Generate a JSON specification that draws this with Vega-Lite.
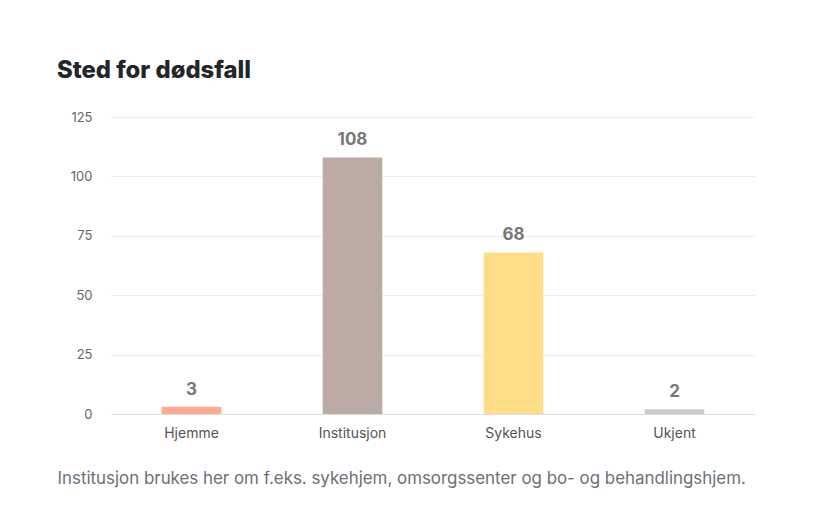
{
  "$schema": "https://vega.github.io/schema/vega-lite/v6.json",
  "width": 644,
  "height": 297,
  "autosize": {"type": "none"},
  "padding": {"left": 111, "top": 117, "right": 72, "bottom": 92},
  "background": "white",
  "config": {
    "font": "Inter",
    "view": {"stroke": null},
    "title": {"font": "Inter", "fontSize": 23.8, "fontWeight": 800, "color": "#222529", "anchor": "start", "frame": "group", "baseline": "alphabetic", "dx": -54, "offset": 28}
  },
  "title": "Sted for dødsfall",
  "data": {
    "values": [
      {"sted": "Hjemme", "antall": 3},
      {"sted": "Institusjon", "antall": 108},
      {"sted": "Sykehus", "antall": 68},
      {"sted": "Ukjent", "antall": 2}
    ]
  },
  "encoding": {
    "x": {
      "field": "sted", "type": "nominal", "sort": null,
      "scale": {"paddingInner": 0.63, "paddingOuter": 0.315},
      "axis": {
        "labelAngle": 0, "labelFontSize": 14, "labelColor": "#555", "labelPadding": 12,
        "ticks": false, "domainColor": "#dddddd", "grid": false,
        "title": "Institusjon brukes her om f.eks. sykehjem, omsorgssenter og bo- og behandlingshjem.",
        "titleFontSize": 16.9, "titleFontWeight": "normal", "titleColor": "#6b7078",
        "titleAnchor": "start", "titleAlign": "left", "titleX": -54, "titleY": 69, "titleBaseline": "alphabetic"
      }
    },
    "y": {
      "field": "antall", "type": "quantitative",
      "scale": {"domain": [0, 125]},
      "axis": {
        "values": [0, 25, 50, 75, 100, 125], "title": null, "domain": false, "ticks": false,
        "labelFontSize": 13, "labelColor": "#666", "labelPadding": 19,
        "gridColor": "#eeeeee"
      }
    }
  },
  "layer": [
    {
      "mark": {"type": "bar"},
      "encoding": {
        "color": {
          "field": "sted", "type": "nominal", "legend": null,
          "scale": {"domain": ["Hjemme", "Institusjon", "Sykehus", "Ukjent"], "range": ["#ffa98f", "#bcaba4", "#ffdd88", "#cccccc"]}
        }
      }
    },
    {
      "mark": {"type": "text", "baseline": "alphabetic", "dy": -12, "fontSize": 17, "fontWeight": "bold", "color": "#777777"},
      "encoding": {"text": {"field": "antall", "type": "quantitative"}}
    }
  ]
}
